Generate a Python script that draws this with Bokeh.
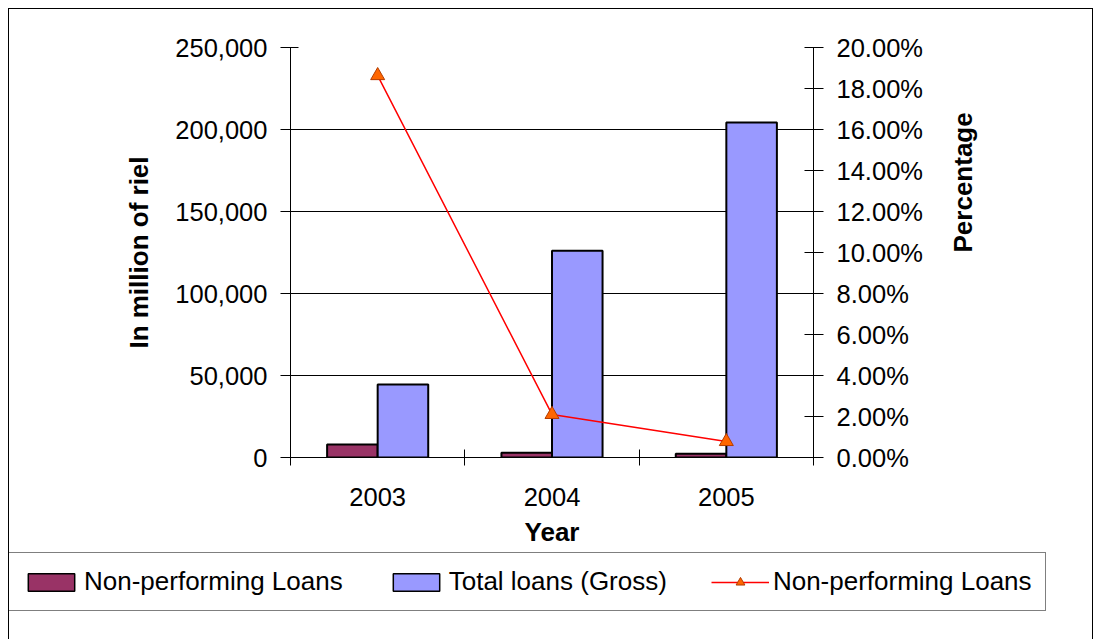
import math
from bokeh.plotting import figure
from bokeh.layouts import column, row
from bokeh.models import (Range1d, LinearAxis, FixedTicker, NumeralTickFormatter,
                          Grid, Legend, LegendItem, Div, Spacer)
from bokeh.embed import file_html
from bokeh.resources import INLINE

# ---- data ----
years = ["2003", "2004", "2005"]
npl_amount = [7900, 2900, 2300]            # Non-performing Loans (million riel)
total_loans = [44500, 126000, 204300]      # Total loans (Gross) (million riel)
npl_ratio = [0.1863, 0.0210, 0.0078]       # Non-performing Loans ratio
left_ticks = [0, 50000, 100000, 150000, 200000, 250000]
right_ticks = [0.00, 0.02, 0.04, 0.06, 0.08, 0.10, 0.12, 0.14, 0.16, 0.18, 0.20]

FONT = "Liberation Sans"
TICK_FS = "25.5px"
TITLE_FS = "26px"
NPL_COLOR = "#993366"
TOT_COLOR = "#9999FF"
LINE_COLOR = "#FF0000"
MARK_FILL = "#FF6600"
MARK_LINE = "#B33C00"

centers = [i + 0.5 for i in range(len(years))]
bounds = [float(i) for i in range(len(years) + 1)]
bar_w = 0.29
x_npl = [c - bar_w / 2 for c in centers]
x_tot = [c + bar_w / 2 for c in centers]

H1, H2 = 540, 90

# ---------- main chart ----------
p = figure(width=1083, height=H1, output_backend="svg", toolbar_location=None,
           x_range=Range1d(bounds[0], bounds[-1]),
           y_range=Range1d(left_ticks[0], left_ticks[-1]),
           x_axis_type=None, y_axis_type=None,
           min_border_left=281, min_border_right=279,
           min_border_top=38, min_border_bottom=92,
           outline_line_color=None,
           background_fill_color="white", border_fill_color="white")
p.extra_y_ranges = {"pct": Range1d(right_ticks[0], right_ticks[-1])}

p.add_layout(Grid(dimension=1, ticker=FixedTicker(ticks=left_ticks[:-1]),
                  grid_line_color="black", grid_line_width=1))
p.add_layout(Grid(dimension=1, ticker=FixedTicker(ticks=left_ticks[-1:]),
                  grid_line_color="#808080", grid_line_width=2))

p.vbar(x=x_npl, top=npl_amount, bottom=0, width=bar_w,
       fill_color=NPL_COLOR, line_color="black", line_width=2)
p.vbar(x=x_tot, top=total_loans, bottom=0, width=bar_w,
       fill_color=TOT_COLOR, line_color="black", line_width=2)
p.line(centers, npl_ratio, y_range_name="pct", line_color=LINE_COLOR, line_width=1.5)
p.scatter(centers, npl_ratio, y_range_name="pct", marker="triangle",
          size=14, fill_color=MARK_FILL, line_color=MARK_LINE, line_width=1)

def style_axis(ax):
    ax.axis_line_color = "black"
    ax.axis_line_width = 1
    ax.major_tick_line_color = "black"
    ax.minor_tick_line_color = None
    ax.major_label_text_font = FONT
    ax.major_label_text_font_size = TICK_FS
    ax.major_label_text_color = "black"
    ax.axis_label_text_font = FONT
    ax.axis_label_text_font_size = TITLE_FS
    ax.axis_label_text_font_style = "bold"
    ax.axis_label_text_color = "black"

xaxis = LinearAxis(ticker=FixedTicker(ticks=centers, minor_ticks=bounds),
                   major_label_overrides={c: y for c, y in zip(centers, years)},
                   axis_label="Year")
style_axis(xaxis)
xaxis.major_tick_in = 0
xaxis.major_tick_out = 0
xaxis.minor_tick_line_color = "black"
xaxis.minor_tick_in = 8
xaxis.minor_tick_out = 8
xaxis.major_label_standoff = 22
xaxis.axis_label_standoff = 8
p.add_layout(xaxis, "below")

yaxis = LinearAxis(ticker=FixedTicker(ticks=left_ticks),
                   formatter=NumeralTickFormatter(format="0,0"),
                   axis_label="In million of riel")
style_axis(yaxis)
yaxis.major_tick_in = 8
yaxis.major_tick_out = 10
yaxis.major_label_standoff = 13
yaxis.axis_label_standoff = 18
p.add_layout(yaxis, "left")

raxis = LinearAxis(y_range_name="pct", ticker=FixedTicker(ticks=right_ticks),
                   formatter=NumeralTickFormatter(format="0.00%"),
                   axis_label="Percentage")
style_axis(raxis)
raxis.major_tick_in = 9
raxis.major_tick_out = 10
raxis.major_label_standoff = 13
raxis.axis_label_standoff = 37
if "axis_label_orientation" in LinearAxis.properties():
    raxis.axis_label_orientation = math.pi / 2
p.add_layout(raxis, "right")

# ---------- legend strip (its own figure, frame = whole strip) ----------
pl = figure(width=1083, height=H2, output_backend="svg", toolbar_location=None,
            x_range=Range1d(0, 1), y_range=Range1d(0, 1),
            x_axis_type=None, y_axis_type=None,
            min_border_left=0, min_border_right=0,
            min_border_top=0, min_border_bottom=0,
            outline_line_color=None,
            background_fill_color="white", border_fill_color="white")
nan = [float("nan")]
lg_npl = pl.vbar(x=nan, top=nan, width=bar_w, fill_color=NPL_COLOR,
                 line_color="black", line_width=1.5)
lg_tot = pl.vbar(x=nan, top=nan, width=bar_w, fill_color=TOT_COLOR,
                 line_color="black", line_width=1.5)
lg_line = pl.line(x=nan, y=nan, line_color=LINE_COLOR, line_width=1.5)
lg_mark = pl.scatter(x=nan, y=nan, marker="triangle", size=12,
                     fill_color=MARK_FILL, line_color=MARK_LINE, line_width=1)
legend = Legend(items=[
    LegendItem(label="Non-performing Loans", renderers=[lg_npl]),
    LegendItem(label="Total loans (Gross)", renderers=[lg_tot]),
    LegendItem(label="Non-performing Loans", renderers=[lg_line, lg_mark]),
], orientation="horizontal", location=(-1, 28),
    label_text_font=FONT, label_text_font_size="26px", label_text_color="black",
    glyph_width=58, glyph_height=22, label_standoff=4, spacing=44, padding=13,
    margin=0, border_line_color="black", border_line_width=1,
    background_fill_color="white", background_fill_alpha=1.0)
pl.add_layout(legend)

# ---------- outer chart-area border ----------
BLACK = {"background-color": "black", "overflow": "hidden"}

def hline(w):
    return Div(text="", width=w, height=1, margin=0, styles=BLACK)

def vline(h):
    return Div(text="", width=1, height=h, margin=0, styles=BLACK)

page = column(
    Spacer(width=1097, height=8, margin=0),
    row(Spacer(width=8, height=1, margin=0), hline(1085), spacing=0),
    row(Spacer(width=8, height=H1, margin=0), vline(H1), p, vline(H1), spacing=0),
    row(Spacer(width=8, height=H2, margin=0), vline(H2), pl, vline(H2), spacing=0),
    spacing=0)

open("out.html", "w").write(file_html(page, INLINE))
